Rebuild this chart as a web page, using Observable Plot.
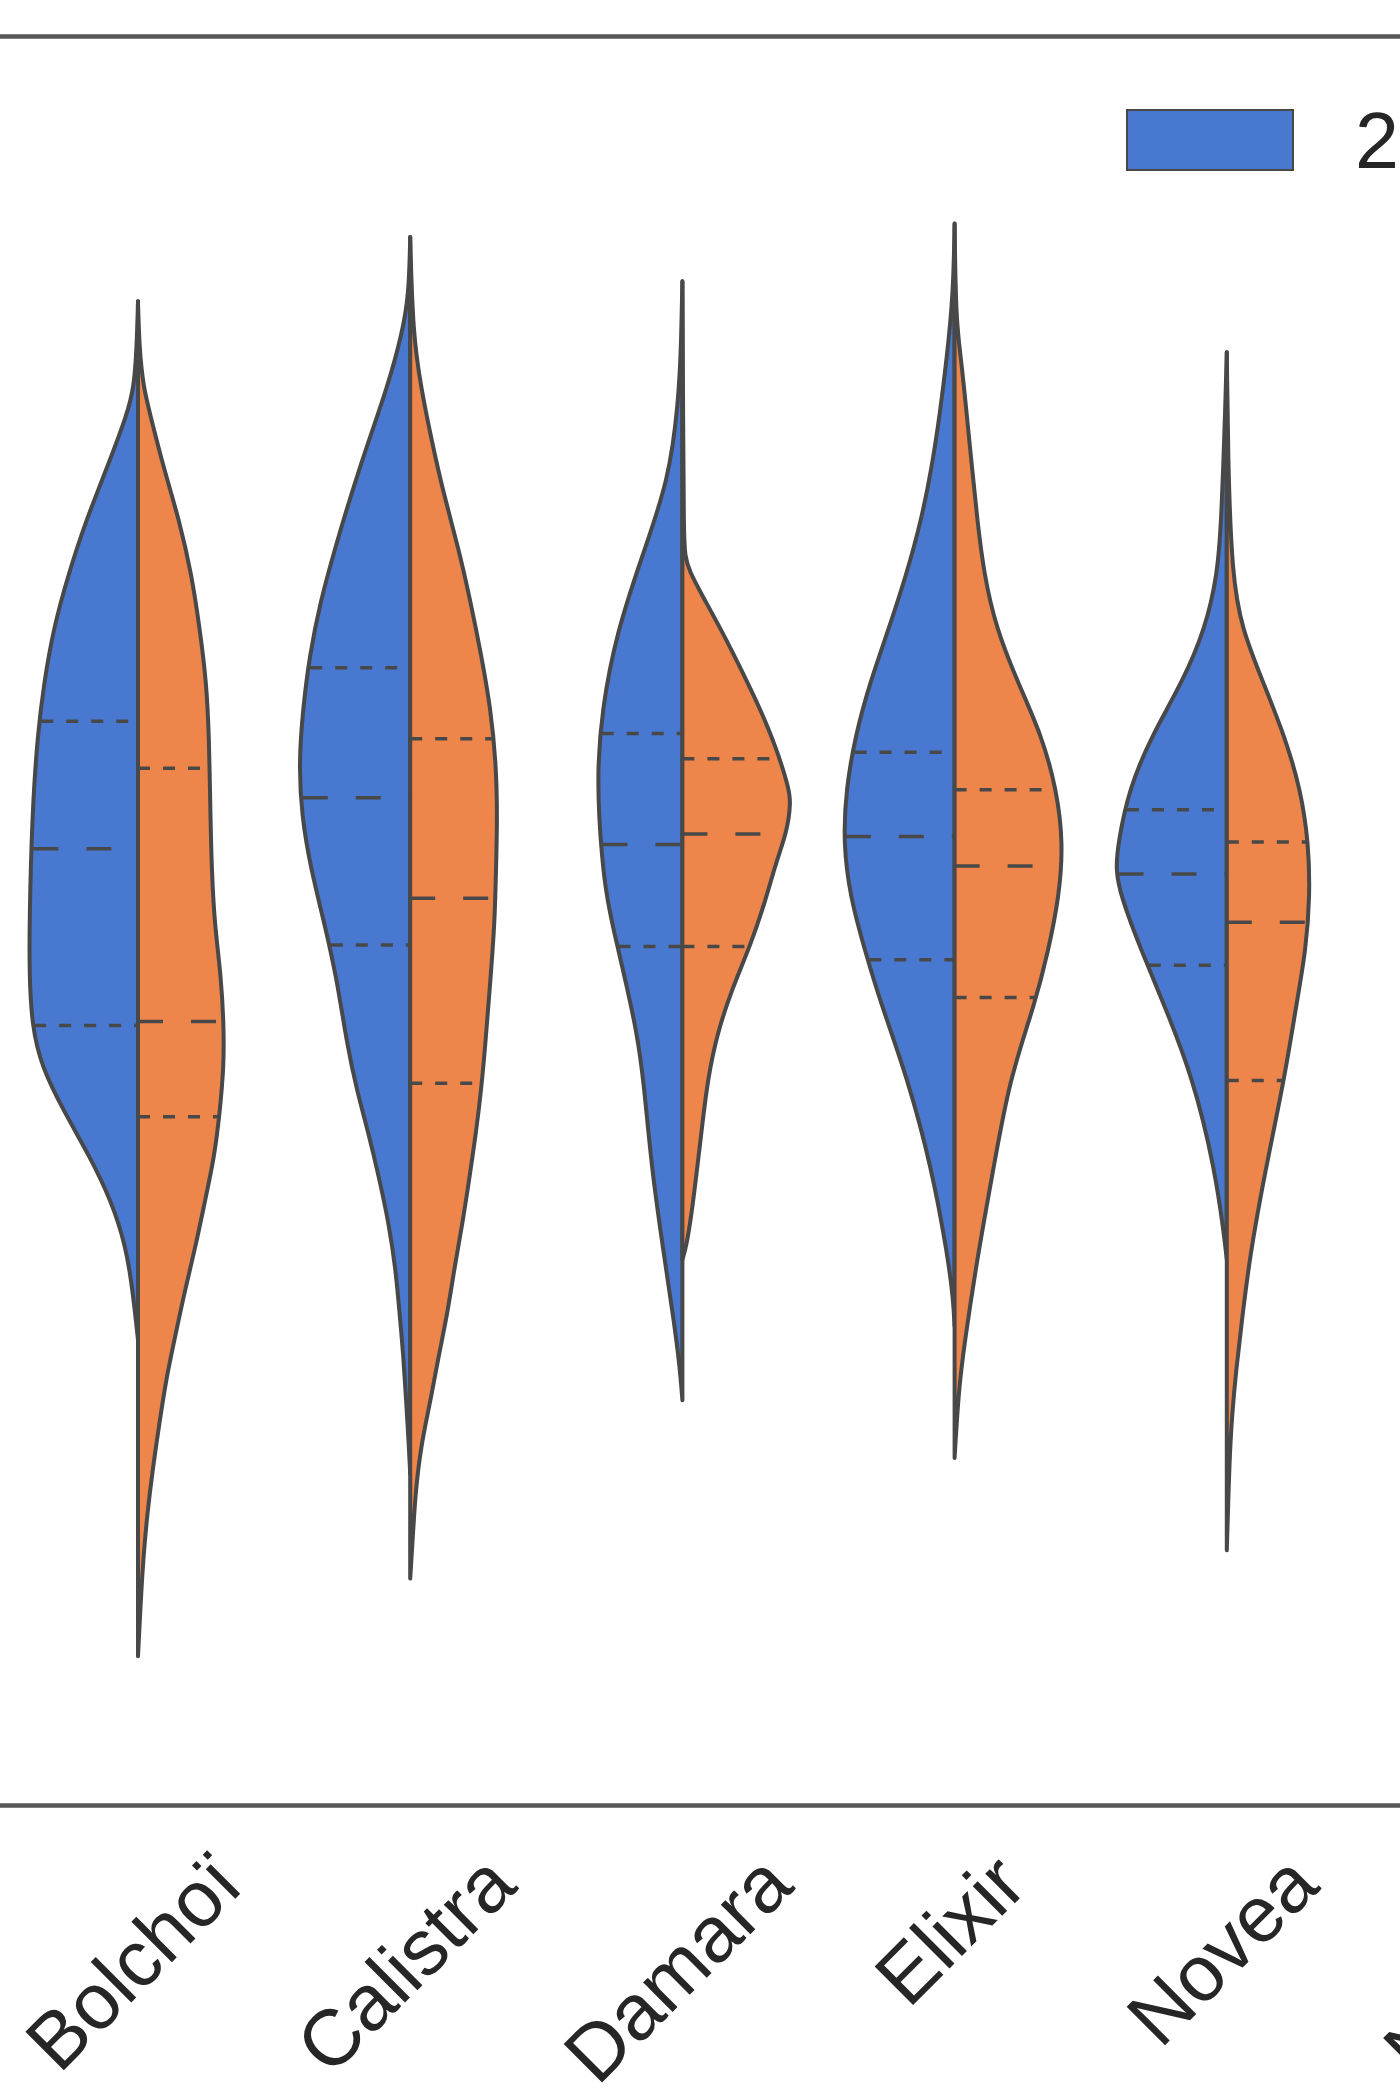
<!DOCTYPE html>
<html>
<head>
<meta charset="utf-8">
<script src="https://cdn.jsdelivr.net/npm/d3@7"></script>
<script src="https://cdn.jsdelivr.net/npm/@observablehq/plot@0.6"></script>
<style>
  html, body { margin: 0; padding: 0; background: #fff; overflow: hidden; width: 1400px; height: 2100px; }
  #chart svg { display: block; }
</style>
</head>
<body>
<div id="chart"></div>
<script>
// ---------------- data ----------------
const categories = ["Bolchoï", "Calistra", "Damara", "Elixir", "Novea", "Nuance"];
const series = ["2022", "2023"];
const colors = ["#4878d0", "#ee854a"];

// violin profiles: [value, density] (density read as half-width)
const bolchoi2022 = [[112.2,0],[108.7,0.01],[105.8,0.03],[103.8,0.08],[99.8,0.23],[95.8,0.39],[91.8,0.52],[87.8,0.63],[83.8,0.70],[79.8,0.75],[73.8,0.79],[65.8,0.81],[61.8,0.81],[58.1,0.79],[55.1,0.72],[51.7,0.55],[48.4,0.36],[45.1,0.20],[41.7,0.09],[38.4,0.04],[34.7,0]];
const bolchoi2023 = [[112.2,0],[108.7,0.01],[105.8,0.04],[103.8,0.09],[99.8,0.19],[95.8,0.31],[91.8,0.40],[87.8,0.46],[83.8,0.51],[79.8,0.53],[73.8,0.54],[69.8,0.55],[65.8,0.57],[61.8,0.62],[58.1,0.64],[55.1,0.64],[51.7,0.61],[48.4,0.57],[45.1,0.50],[41.7,0.43],[38.4,0.35],[35.1,0.28],[31.8,0.21],[28.5,0.16],[25.1,0.11],[21.8,0.07],[18.5,0.04],[15.1,0.02],[11.1,0]];
const calistra2022 = [[117.0,0],[112.7,0.01],[109.8,0.06],[105.8,0.17],[101.8,0.31],[97.8,0.44],[93.8,0.56],[89.8,0.67],[85.8,0.75],[81.8,0.80],[77.8,0.83],[73.8,0.81],[69.8,0.74],[65.8,0.64],[61.8,0.55],[56.7,0.47],[53.4,0.40],[50.1,0.31],[46.7,0.23],[43.4,0.16],[40.1,0.11],[36.8,0.08],[33.4,0.05],[30.1,0.03],[26.8,0.01],[24.7,0]];
const calistra2023 = [[117.0,0],[109.8,0.02],[105.8,0.08],[101.8,0.16],[97.8,0.25],[93.8,0.36],[89.8,0.45],[85.8,0.53],[81.8,0.60],[77.8,0.64],[73.8,0.65],[69.8,0.64],[65.8,0.63],[61.8,0.60],[56.7,0.56],[53.4,0.53],[50.1,0.49],[46.7,0.44],[43.4,0.39],[40.1,0.33],[36.8,0.28],[33.4,0.21],[30.1,0.15],[26.8,0.08],[23.4,0.04],[20.1,0.02],[16.9,0]];
const damara2022 = [[113.7,0],[108.7,0.01],[104.7,0.03],[98.9,0.10],[93.2,0.30],[87.5,0.49],[81.8,0.60],[76.6,0.64],[70.4,0.60],[67.5,0.56],[64.7,0.50],[60.9,0.41],[57.6,0.34],[54.2,0.29],[47.5,0.23],[41.2,0.14],[35.9,0.06],[32.7,0.02],[30.2,0]];
const damara2023 = [[113.7,0],[104.7,0.005],[94.7,0.01],[93.2,0.02],[92.1,0.05],[90.4,0.14],[87.5,0.30],[84.7,0.44],[81.8,0.58],[78.9,0.70],[76.0,0.79],[74.9,0.81],[72.6,0.78],[70.4,0.70],[67.5,0.62],[64.2,0.51],[60.9,0.37],[57.6,0.26],[54.2,0.19],[50.9,0.15],[47.5,0.11],[44.2,0.07],[41.7,0.03],[40.7,0]];
const elixir2022 = [[118.0,0],[112.7,0.01],[107.8,0.06],[103.8,0.11],[99.8,0.17],[95.8,0.25],[91.8,0.36],[87.8,0.49],[83.8,0.63],[79.8,0.74],[75.8,0.81],[71.8,0.83],[67.8,0.78],[63.8,0.67],[59.8,0.55],[54.2,0.35],[47.5,0.17],[40.9,0.05],[37.7,0.01],[35.7,0]];
const elixir2023 = [[118.0,0],[110.7,0.01],[107.8,0.05],[103.8,0.09],[99.8,0.13],[95.8,0.17],[91.8,0.22],[87.8,0.31],[83.8,0.47],[79.8,0.65],[75.8,0.76],[71.8,0.81],[67.8,0.78],[63.8,0.70],[59.8,0.60],[54.2,0.41],[47.5,0.29],[40.9,0.17],[34.2,0.07],[30.9,0.03],[25.9,0]];
const novea2022 = [[108.4,0],[104.7,0.01],[95.8,0.04],[91.8,0.07],[87.8,0.16],[83.8,0.33],[79.8,0.56],[75.8,0.73],[71.8,0.81],[69.8,0.83],[67.8,0.79],[63.8,0.64],[59.8,0.47],[54.2,0.25],[47.5,0.09],[42.5,0.02],[40.7,0]];
const novea2023 = [[108.4,0],[99.7,0.01],[91.8,0.04],[87.8,0.11],[83.8,0.27],[79.8,0.43],[75.8,0.55],[71.8,0.61],[67.8,0.62],[63.8,0.59],[59.8,0.52],[54.2,0.43],[47.5,0.29],[40.9,0.17],[35.9,0.11],[32.5,0.07],[29.2,0.04],[25.9,0.02],[19.0,0]];

const profiles2022 = [bolchoi2022, calistra2022, damara2022, elixir2022, novea2022];
const profiles2023 = [bolchoi2023, calistra2023, damara2023, elixir2023, novea2023];

// quartiles per category: [Q3, median, Q1]
const quartiles2022 = [[80.9,71.4,58.2],[84.9,75.2,64.2],[80.0,71.7,64.1],[78.6,72.3,63.1],[74.3,69.5,62.7]];
const quartiles2023 = [[77.4,58.5,51.4],[79.6,67.7,53.9],[78.1,72.5,64.1],[75.8,70.1,60.3],[71.9,65.9,54.1]];

// ---------------- layout / style constants ----------------
const K = 0.4926;           // half-width (category units) per density unit
const FS = 79;              // tick label font size
const FONT = "'Liberation Sans', Arial, Helvetica, sans-serif";
const EDGE = "#484848";

// ---------------- build tables ----------------
const profilesBySeries = [profiles2022, profiles2023];
const quartilesBySeries = [quartiles2022, quartiles2023];
const rows = [];
const qRows = [];
function densityAt(profile, v) {
  for (let j = 0; j < profile.length - 1; j++) {
    const [v0, d0] = profile[j], [v1, d1] = profile[j + 1];
    if (v <= v0 && v >= v1) {
      const t = (v0 - v) / (v0 - v1 || 1);
      return d0 + t * (d1 - d0);
    }
  }
  return 0;
}
profilesBySeries.forEach((profs, s) => {
  profs.forEach((prof, i) => {
    prof.forEach(([v, d]) => {
      rows.push({
        key: categories[i] + "|" + series[s],
        series: series[s],
        v,
        x1: s === 0 ? i - d * K : i,
        x2: s === 0 ? i : i + d * K
      });
    });
    quartilesBySeries[s][i].forEach((v, k) => {
      const w = densityAt(prof, v) * K * 0.98;
      qRows.push({
        kind: k === 1 ? "median" : "quartile",
        v,
        x1: s === 0 ? i - w : i,
        x2: s === 0 ? i : i + w
      });
    });
  });
});

// label offsets (matplotlib aligns the top of rotated labels)
const ctx = document.createElement("canvas").getContext("2d");
ctx.font = `${FS}px ${FONT}`;
const labelTop = 1850, axisY = 1805;

const chart = Plot.plot({
  width: 1400,
  height: 2100,
  marginLeft: 0,
  marginRight: 0,
  marginTop: 36,
  marginBottom: 295,
  x: { type: "linear", domain: [0, 5], range: [138, 1499], axis: null },
  y: { domain: [0, 132], axis: null },
  color: { domain: series, range: colors },
  style: { fontFamily: FONT, color: "#262626", background: "#fff", overflow: "hidden" },
  marks: [
    Plot.areaX(rows, {
      y: "v", x1: "x1", x2: "x2", z: "key", fill: "series",
      stroke: EDGE, strokeWidth: 4, strokeLinejoin: "round", curve: "basis"
    }),
    Plot.ruleY(qRows.filter(q => q.kind === "quartile"), {
      y: "v", x1: "x1", x2: "x2", stroke: EDGE, strokeWidth: 3.5, strokeDasharray: "12 13"
    }),
    Plot.ruleY(qRows.filter(q => q.kind === "median"), {
      y: "v", x1: "x1", x2: "x2", stroke: EDGE, strokeWidth: 3.5, strokeDasharray: "25 28"
    }),
    Plot.ruleY([0, 132], { stroke: "#585858", strokeWidth: 4.5 }),
    ...categories.map((c, i) => {
      const L = ctx.measureText(c).width;
      const cy = labelTop + (L + 0.716 * FS) * 0.3535;
      return Plot.text([c], {
        x: () => i, y: () => 0, text: d => d,
        rotate: -45, textAnchor: "middle", lineAnchor: "middle",
        fontSize: FS, fill: "#262626", dy: cy - axisY, dx: -4
      });
    })
  ]
});

// legend (inside the axes, upper right)
const svg = d3.select(chart);
const lg = svg.append("g").attr("font-family", FONT).attr("font-size", FS)
  .attr("fill", "#262626").attr("text-anchor", "start");
series.forEach((s, j) => {
  const x0 = 1127 + j * 480;
  lg.append("rect").attr("x", x0).attr("y", 110).attr("width", 166).attr("height", 60)
    .attr("fill", colors[j]).attr("stroke", EDGE).attr("stroke-width", 2);
  lg.append("text").attr("x", x0 + 228).attr("y", 168).text(s);
});

document.getElementById("chart").appendChild(chart);
</script>
</body>
</html>
